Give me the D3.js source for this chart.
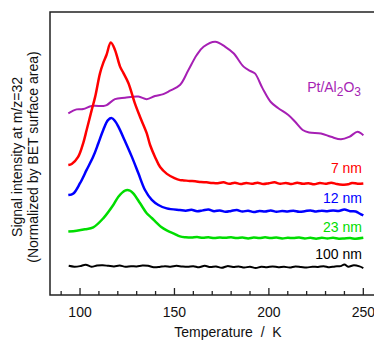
<!DOCTYPE html>
<html>
<head>
<meta charset="utf-8">
<script src="https://cdn.jsdelivr.net/npm/d3@7"></script>
<style>
  body { margin: 0; background: #fff; }
  text { font-family: Arial, "Liberation Sans", sans-serif; }
</style>
</head>
<body>
<div id="chart"></div>
<script>
// Signal values: [temperature K, signal a.u.]
const pt = [[93.8,6.42],[98.2,6.56],[101.7,6.57],[106.2,6.68],[112.3,6.68],[114.1,6.71],[118.5,6.92],[123.8,6.97],[130.9,7.01],[135.3,6.92],[139.7,7.03],[144.1,7.10],[147.7,7.22],[152.9,7.42],[157.4,7.95],[161.8,8.48],[165.4,8.77],[171.6,8.95],[176.9,8.77],[181.3,8.54],[186.6,8.07],[190,7.92],[192.6,7.83],[196.6,7.31],[201,6.82],[205,6.60],[210.3,6.36],[213.9,6.12],[217.9,5.83],[221.3,5.74],[227.6,5.71],[232.9,5.59],[238.2,5.50],[242.6,5.59],[247,5.77],[250,5.64]];

const nm7 = [[93.8,4.59],[95.6,4.63],[99,4.88],[101.7,5.37],[103.5,5.83],[106.2,6.54],[108,7.00],[110.6,7.84],[112.3,8.20],[114,8.48],[116.3,8.92],[118.5,8.66],[121.2,8.07],[123,7.84],[125.6,7.49],[129,6.78],[131.8,6.29],[135.3,5.72],[137.1,5.30],[139.7,4.88],[142.4,4.52],[146,4.28],[150,4.13],[153,4.06],[155,4.05],[158,4.03],[161,4.02],[164,3.99],[167,3.98],[170,3.96],[173,3.95],[176,3.98],[179,3.93],[182,3.97],[185,3.92],[188,3.96],[191,3.93],[194,3.97],[197,3.92],[200,3.95],[203,3.98],[206,3.93],[209,3.96],[212,3.92],[215,3.97],[218,3.93],[221,3.95],[224,3.91],[227,3.96],[230,3.93],[233,3.97],[236,3.92],[239,3.90],[242,3.91],[244,3.96],[247,3.93],[250,3.94]];

const nm12 = [[93.8,3.53],[96.5,3.59],[100,3.95],[103.5,4.42],[107,4.89],[109.7,5.36],[112.3,5.83],[114.8,6.18],[116.8,6.25],[118.5,6.15],[120.3,5.95],[123.8,5.44],[127.4,4.89],[130.9,4.30],[134.4,3.71],[138,3.36],[141.5,3.18],[145.9,3.06],[152.9,3.00],[156,2.98],[159,3.01],[162,2.96],[165,2.99],[168,3.02],[171,2.96],[174,2.99],[177,2.94],[180,2.97],[183,3.00],[186,2.95],[189,2.98],[192,2.93],[195,2.97],[198,2.95],[201,2.99],[204,2.94],[207,2.97],[210,2.95],[213,2.98],[216,2.94],[219,2.96],[222,2.99],[225,2.95],[228,2.98],[231,2.96],[234,2.99],[237,2.97],[240,3.02],[243,2.96],[246,2.95],[248,2.88],[250,2.81]];

const nm23 = [[93.8,2.24],[98.2,2.27],[102.6,2.32],[107,2.39],[112.3,2.71],[117.6,3.18],[120.3,3.47],[123.8,3.69],[126.4,3.69],[128.2,3.59],[131.8,3.24],[135.3,2.89],[138,2.72],[140.6,2.55],[143,2.40],[145.9,2.28],[150,2.16],[152.9,2.07],[156,2.04],[159,2.03],[162,2.05],[165,2.02],[168,2.04],[171,2.01],[174,2.03],[177,2.02],[180,2.04],[183,2.01],[186,2.03],[189,2.00],[192,2.03],[195,2.01],[198,2.04],[201,2.01],[204,2.03],[207,2.00],[210,2.02],[213,2.01],[216,2.03],[219,2.00],[222,2.02],[225,1.99],[228,2.02],[231,2.00],[234,2.02],[237,1.99],[240,2.00],[243,2.01],[246,1.99],[250,2.02]];

const nm100 = [[94,1.03],[97,1.00],[100,1.02],[103,1.07],[106,1.00],[109,1.04],[112,1.05],[115,1.03],[118,1.01],[121,1.04],[124,1.00],[127,1.02],[130,1.01],[133,1.04],[136,1.03],[139,0.98],[142,0.99],[145,1.02],[148,1.00],[151,1.03],[154,1.01],[157,1.00],[160,1.02],[163,0.98],[166,1.03],[169,0.99],[172,1.01],[175,0.96],[178,1.02],[181,0.99],[184,1.01],[187,0.97],[190,1.00],[193,0.95],[196,1.00],[199,0.98],[202,1.01],[205,0.98],[208,1.00],[211,0.97],[214,1.01],[217,0.99],[220,0.97],[223,1.00],[226,0.99],[229,1.02],[232,0.98],[235,1.01],[238,1.02],[240,1.08],[242,1.00],[245,1.05],[248,1.01],[250,0.95]];

const xTicks = [90,100,110,120,130,140,150,160,170,180,190,200,210,220,230,240,250];
const xLabels = [100,150,200,250];

// series, colours and the label beside each one
const series = [
  { name: "Pt/Al2O3", data: pt,    color: "#a61fb4", w: 2 },
  { name: "7 nm",     data: nm7,   color: "#ff0000", w: 2.5 },
  { name: "12 nm",    data: nm12,  color: "#0000ff", w: 2.5 },
  { name: "23 nm",    data: nm23,  color: "#00dd00", w: 2.5 },
  { name: "100 nm",   data: nm100, color: "#000000", w: 2 }
];

const width = 374, height = 341;
const margin = { top: 12, left: 50, bottom: 46 };

const svg = d3.select("#chart").append("svg")
    .attr("width", width)
    .attr("height", height);

const x = d3.scaleLinear().domain([84.1, 260]).range([50, 382.2]);
const y = d3.scaleLinear().domain([0, 10]).range([height - margin.bottom, margin.top]);

// frame (right side runs off the picture)
svg.append("rect")
    .attr("x", x(84.1))
    .attr("y", y(10))
    .attr("width", x(260) - x(84.1))
    .attr("height", y(0) - y(10))
    .attr("fill", "none")
    .attr("stroke", "#222")
    .attr("stroke-width", 1.5);

// bottom axis, ticks pointing inward
const xAxis = svg.append("g")
    .attr("transform", `translate(0,${y(0)})`)
    .call(d3.axisBottom(x).tickValues(xTicks).tickSize(0).tickFormat(""));
xAxis.select(".domain").remove();

svg.selectAll(".xtick")
    .data(xTicks)
    .join("line")
    .attr("x1", d => x(d)).attr("x2", d => x(d))
    .attr("y1", y(0))
    .attr("y2", d => y(0) - (d % 50 === 0 ? 7 : 4))
    .attr("stroke", "#222")
    .attr("stroke-width", 1.3);

svg.selectAll(".xlab")
    .data(xLabels)
    .join("text")
    .attr("x", d => x(d))
    .attr("y", y(0) + 22)
    .attr("text-anchor", "middle")
    .attr("font-size", 14)
    .attr("fill", "#111")
    .text(d => d);

svg.append("text")
    .attr("x", 228)
    .attr("y", 337)
    .attr("text-anchor", "middle")
    .attr("font-size", 14)
    .attr("fill", "#111")
    .attr("xml:space", "preserve")
    .text("Temperature  /  K");

// y label, two lines
const yl = svg.append("text")
    .attr("transform", "translate(0,157) rotate(-90)")
    .attr("text-anchor", "middle")
    .attr("font-size", 14)
    .attr("fill", "#111");
yl.append("tspan").attr("x", 0).attr("y", 22).text("Signal intensity at m/z=32");
yl.append("tspan").attr("x", 0).attr("y", 38).text("(Normalized by BET surface area)");

// curves
const line = d3.line()
    .x(d => x(d[0]))
    .y(d => y(d[1]))
    .curve(d3.curveCatmullRom.alpha(0.5));

svg.selectAll(".curve")
    .data(series)
    .join("path")
    .attr("d", d => line(d.data))
    .attr("fill", "none")
    .attr("stroke", d => d.color)
    .attr("stroke-width", d => d.w)
    .attr("stroke-linejoin", "round");

// series labels
const labelPos = { "7 nm": 173, "12 nm": 202.5, "23 nm": 231.5, "100 nm": 259 };
series.filter(s => s.name !== "Pt/Al2O3").forEach(s => {
  svg.append("text")
      .attr("x", 362)
      .attr("y", labelPos[s.name])
      .attr("text-anchor", "end")
      .attr("font-size", 14)
      .attr("fill", s.color)
      .text(s.name);
});

const ptl = svg.append("text")
    .attr("x", 361)
    .attr("y", 92)
    .attr("text-anchor", "end")
    .attr("font-size", 14)
    .attr("fill", series[0].color);
ptl.append("tspan").text("Pt/Al");
ptl.append("tspan").attr("dy", 4).attr("font-size", 12).text("2");
ptl.append("tspan").attr("dy", -4).text("O");
ptl.append("tspan").attr("dy", 4).attr("font-size", 12).text("3");
</script>
</body>
</html>
